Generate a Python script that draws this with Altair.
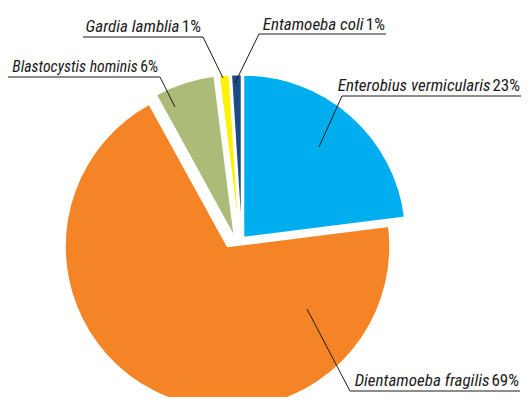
import math
import altair as alt
import pandas as pd

# ---- data ----
categories = ["Enterobius vermicularis", "Dientamoeba fragilis", "Blastocystis hominis",
              "Gardia lamblia", "Entamoeba coli"]
values = [23, 69, 6, 1, 1]
pct_labels = ["23%", "69%", "6%", "1%", "1%"]

# ---- style ----
colors = ["#00AEEF", "#F58426", "#ADBB78", "#FFF200", "#1B4A87"]
# how far each slice is pulled away from the common centre (px, x right / y down)
explode_dx = [3.5, -12.5, -5.5, -0.5, 1.5]
explode_dy = [0.5, 9.5, 0.3, 0, 0]
M = 8                               # page margin
CX, CY, R = 240 - M, 237 - M, 162.5  # common pie centre and radius
FONT = "Roboto Condensed"

# label layout (screen px): font size, text right end, baseline, underline y / x0 / x1, leader elbow x & tip
layout = {
    "Enterobius vermicularis": dict(fs=17, end=520, base=91, uy=96, ux0=342, ux1=521, ex=342, tx=319, ty=147),
    "Dientamoeba fragilis":    dict(fs=17, end=519, base=386, uy=391, ux0=350, ux1=520, ex=350, tx=307, ty=309),
    "Blastocystis hominis":    dict(fs=15.8, end=158, base=72, uy=77, ux0=8, ux1=160, ex=160, tx=175, ty=107),
    "Gardia lamblia":          dict(fs=17, end=201, base=32, uy=37, ux0=83, ux1=203, ex=203, tx=223, ty=78),
    "Entamoeba coli":          dict(fs=17, end=385, base=30, uy=34, ux0=259, ux1=386, ex=259, tx=235, ty=83),
}
PCT_W = {"1%": 18, "6%": 18, "23%": 26, "69%": 26}   # at 17px

df = pd.DataFrame({"cat": categories, "value": values, "order": list(range(len(categories))),
                   "dx": explode_dx, "dy": explode_dy})

theta_scale = alt.Scale(domain=[0, sum(values)], range=[0, 2 * math.pi])
color_scale = alt.Scale(domain=categories, range=colors)

pie = (
    alt.Chart(df)
    .transform_window(cum="sum(value)", sort=[alt.SortField("order")], frame=[None, 0])
    .transform_calculate(
        start="datum.cum - datum.value",
        cx=f"{CX} + datum.dx",
        cy=f"{CY} + datum.dy",
    )
    .mark_arc(radius=R, stroke="white", strokeWidth=1.5)
    .encode(
        theta=alt.Theta("start:Q", scale=theta_scale, stack=None),
        theta2="cum:Q",
        x=alt.X("cx:Q", scale=None),
        y=alt.Y("cy:Q", scale=None),
        color=alt.Color("cat:N", scale=color_scale, legend=None),
    )
)

rows = []
for c, p in zip(categories, pct_labels):
    L = layout[c]
    rows.append(dict(
        cat=c, pct=p, fs=L["fs"],
        pct_x=L["end"] - M, name_x=L["end"] - M - PCT_W[p] * L["fs"] / 17 - 3.5, base=L["base"] - M,
        uy=L["uy"] - M, ux0=L["ux0"] - M, ux1=L["ux1"] - M,
        ex=L["ex"] - M, tx=L["tx"] - M, ty=L["ty"] - M,
    ))
lab = pd.DataFrame(rows)

names = alt.Chart(lab).mark_text(font=FONT, fontStyle="italic", align="right",
                                 baseline="alphabetic", color="#1a1a1a").encode(
    x=alt.X("name_x:Q", scale=None), y=alt.Y("base:Q", scale=None), text="cat:N",
    size=alt.Size("fs:Q", scale=None))
pcts = alt.Chart(lab).mark_text(font=FONT, align="right",
                                baseline="alphabetic", color="#1a1a1a").encode(
    x=alt.X("pct_x:Q", scale=None), y=alt.Y("base:Q", scale=None), text="pct:N",
    size=alt.Size("fs:Q", scale=None))
underline = alt.Chart(lab).mark_rule(color="#1a1a1a", strokeWidth=1).encode(
    x=alt.X("ux0:Q", scale=None), x2="ux1:Q", y=alt.Y("uy:Q", scale=None))
leader = alt.Chart(lab).mark_rule(color="#1a1a1a", strokeWidth=1).encode(
    x=alt.X("ex:Q", scale=None), x2="tx:Q", y=alt.Y("uy:Q", scale=None), y2="ty:Q")

chart = (
    alt.layer(pie, leader, underline, names, pcts)
    .properties(width=529 - 2 * M, height=405 - 2 * M, autosize="none", padding=0)
    .configure_view(stroke=None)
)
chart.save("out.html", embed_options={"renderer": "svg", "actions": False})
